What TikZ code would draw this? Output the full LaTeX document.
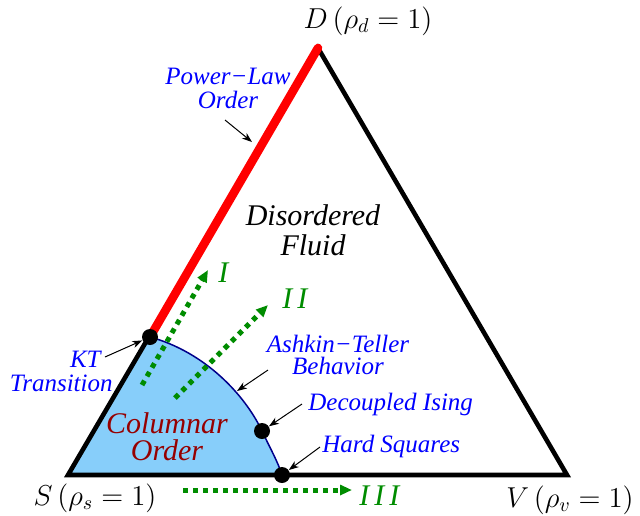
\documentclass[tikz,border=0pt]{standalone}
\usepackage[no-math]{fontspec}
\newfontfamily\figfont{Liberation Serif}
\usetikzlibrary{arrows.meta}
\definecolor{colfill}{RGB}{135,206,250}
\definecolor{arcblue}{RGB}{0,0,139}
\definecolor{routegreen}{RGB}{0,140,0}
\definecolor{ordred}{RGB}{150,0,0}

\begin{document}
\begin{tikzpicture}[x=0.5pt, y=-0.5pt, >={Stealth[length=5pt,width=3.6pt,inset=1.5pt]},
		lbl/.style={font=\figfont\itshape\fontsize{12.5}{12}\selectfont, text=blue, inner sep=0pt, align=center},
		big/.style={font=\figfont\itshape\fontsize{15}{15}\selectfont, inner sep=0pt, align=center},
		vtx/.style={font=\fontsize{14}{14}\selectfont, inner sep=0pt},
		route/.style={routegreen, line width=2.5pt, dash pattern=on 2.5pt off 2.5pt, -{Triangle[length=6pt,width=5pt]}},
		note/.style={->, line width=0.5pt},
		dot/.style={circle, fill=black, inner sep=0pt, minimum size=8pt}]
	\useasboundingbox (0,0) rectangle (640,515);
	% Dinh tam giac
	\coordinate (S) at (68,475);
	\coordinate (V) at (567,475);
	\coordinate (D) at (318,48);
	\coordinate (kt) at (150,337);
	\coordinate (di) at (262,431);
	\coordinate (hs) at (282,475);
	% Pha cot
	\fill[colfill] (S) -- (kt) .. controls (205,352) and (245,395) .. (di)
		.. controls (270,448) and (278,462) .. (hs) -- cycle;
	\draw[arcblue, line width=0.75pt] (kt) .. controls (205,352) and (245,395) .. (di)
		.. controls (270,448) and (278,462) .. (hs);
	\draw[line width=2.3pt, miter limit=20] (S) -- (V) -- (D) -- cycle;
	\draw[red, line width=4.3pt, line cap=round] (D) -- (kt);
	\node[dot] (ktdot) at (kt) {};
	\node[dot] (didot) at (di) {};
	\node[dot] (hsdot) at (hs) {};
	% Duong di
	\coordinate (iA) at (142,385);   \coordinate (iB) at (208,270);
	\coordinate (iiA) at (175,398);  \coordinate (iiB) at (268,305);
	\coordinate (iiiA) at (183,490); \coordinate (iiiB) at (352,490);
	\draw[route] (iA) -- (iB);
	\draw[route] (iiA) -- (iiB);
	\draw[route] (iiiA) -- (iiiB);
	% Nhan
	\node[lbl] (plLbl) at (228,88) {Power−Law\\Order};
	\node[lbl, align=right, anchor=east] (ktLbl) at (113,371) {KT\kern6pt\\Transition};
	\node[lbl] (atLbl) at (338,355) {Ashkin−Teller\\[-1pt]Behavior};
	\node[lbl, anchor=base west] (diLbl) at (308,410) {Decoupled Ising};
	\node[lbl, anchor=base west] (hsLbl) at (322,452) {Hard Squares};
	\node[big, text=ordred] (colLbl) at (167,437) {Columnar\\[-1.5pt]Order};
	\node[big] (disLbl) at (313,230) {Disordered\\Fluid};
	\node[big, text=routegreen, anchor=base west] (rI) at (218,282) {I};
	\node[big, text=routegreen, anchor=base west] (rII) at (282,308) {I\,I};
	\node[big, text=routegreen, anchor=base west] (rIII) at (359,505) {I\,I\,I};
	\node[vtx, anchor=base] (sLbl) at (95,505) {$S\,(\rho_s=1)$};
	\node[vtx, anchor=base] (vLbl) at (570,507) {$V\,(\rho_v=1)$};
	\node[vtx, anchor=base] (dLbl) at (368,28) {$D\,(\rho_d=1)$};
	% Mui ten chu thich
	\coordinate (plT) at (225,120); \coordinate (plH) at (252,142);
	\coordinate (ktT) at (105,357);
	\coordinate (atT) at (268,370); \coordinate (atH) at (237,391);
	\coordinate (diT) at (302,404);
	\coordinate (hsT) at (320,447);
	\draw[note] (plT) -- (plH);
	\draw[note] (ktT) -- (ktdot);
	\draw[note] (atT) -- (atH);
	\draw[note] (diT) -- (didot);
	\draw[note] (hsT) -- (hsdot);
\end{tikzpicture}
\end{document}
